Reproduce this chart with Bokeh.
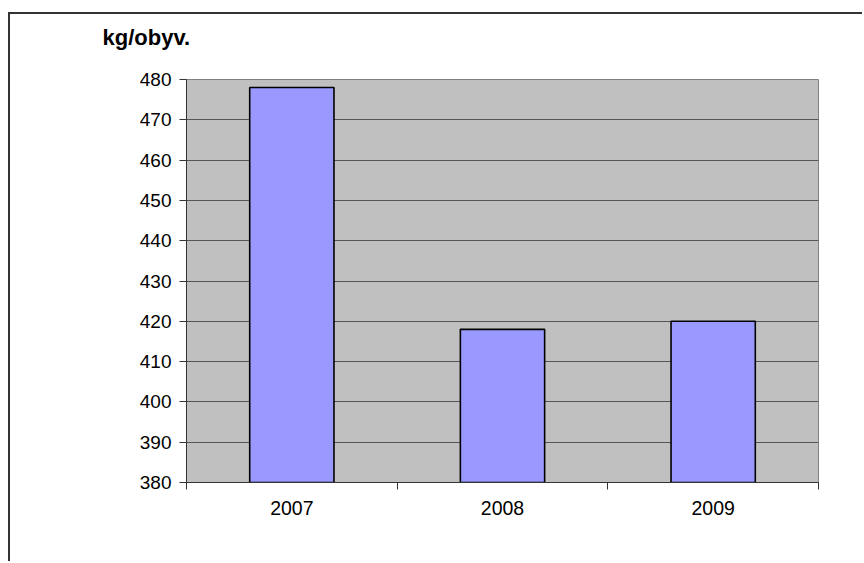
from bokeh.plotting import figure
from bokeh.models import FixedTicker, Range1d, Title
from bokeh.embed import file_html
from bokeh.resources import INLINE

# ---- data ----
years = ["2007", "2008", "2009"]
values = [478, 418, 420]
y_ticks = [380, 390, 400, 410, 420, 430, 440, 450, 460, 470, 480]
y_min, y_max = 380, 480
unit_label = "kg/obyv."

xs = [i + 0.5 for i in range(len(years))]
FONT = "Liberation Sans"

p = figure(width=854, height=549,
           x_range=Range1d(0, len(years)), y_range=Range1d(y_min, y_max),
           output_backend="svg", toolbar_location=None,
           min_border_left=176, min_border_right=46,
           min_border_top=58, min_border_bottom=81,
           title=None)

p.styles = {"margin-left": "8px", "margin-top": "12px",
            "border-left": "2px solid #333", "border-top": "2px solid #333"}

p.background_fill_color = "#C0C0C0"
p.border_fill_color = "white"
p.outline_line_color = "#808080"
p.outline_line_width = 1

p.vbar(x=xs, top=values, bottom=y_min, width=0.4,
       fill_color="#9999FF", line_color="black", line_width=1.6)

# spacer between plot area and the unit label (nearest to the frame)
p.add_layout(Title(text=" ", text_font_size="1px", text_line_height=1.0,
                   standoff=19), "above")
# unit label, left of the plot area (farther from the frame)
p.add_layout(Title(text=unit_label, text_font=FONT, text_font_size="22px",
                   text_font_style="bold", text_color="black",
                   text_line_height=1.0, align="left", offset=-84,
                   standoff=16), "above")

# y axis
yax = p.yaxis[0]
yax.ticker = FixedTicker(ticks=y_ticks)
yax.major_label_text_font = FONT
yax.major_label_text_font_size = "19px"
yax.major_label_text_color = "black"
yax.major_tick_in = 0
yax.major_tick_out = 7
yax.minor_tick_in = 0
yax.minor_tick_out = 0
yax.major_label_standoff = 8
yax.axis_line_color = "#333333"
yax.major_tick_line_color = "#333333"

# x axis: labels at centers, ticks at boundaries (as minor ticks)
xax = p.xaxis[0]
xax.ticker = FixedTicker(ticks=xs, minor_ticks=list(range(len(years) + 1)))
xax.major_label_overrides = {x: y for x, y in zip(xs, years)}
xax.major_label_text_font = FONT
xax.major_label_text_font_size = "19.5px"
xax.major_label_text_color = "black"
xax.major_tick_in = 0
xax.major_tick_out = 0
xax.minor_tick_in = 0
xax.minor_tick_out = 7
xax.minor_tick_line_color = "#333333"
xax.major_label_standoff = 11
xax.axis_line_color = "#333333"

p.xgrid.grid_line_color = None
p.ygrid.grid_line_color = "#555555"
p.ygrid.grid_line_width = 1

open("out.html", "w").write(file_html(p, INLINE))
